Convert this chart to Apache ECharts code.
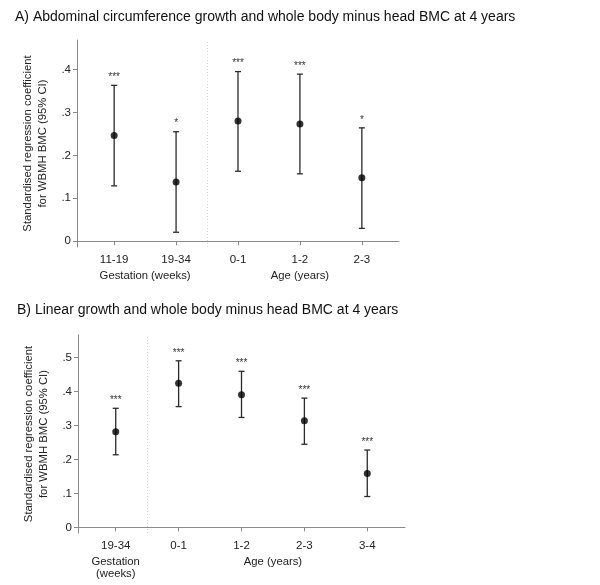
<!DOCTYPE html>
<html><head><meta charset="utf-8">
<script src="https://cdn.jsdelivr.net/npm/echarts@6/dist/echarts.min.js"></script>
<style>html,body{margin:0;padding:0;background:#fff}#c{width:600px;height:585px}</style>
</head><body><div id="c"></div>
<script>
// Panel A data
const titleA = 'A) Abdominal circumference growth and whole body minus head BMC at 4 years';
const catsA = ['11-19', '19-34', '0-1', '1-2', '2-3'];
const estA = [0.246, 0.138, 0.280, 0.273, 0.148];
const loA = [0.129, 0.021, 0.163, 0.157, 0.030];
const hiA = [0.363, 0.255, 0.395, 0.389, 0.264];
const sigA = ['***', '*', '***', '***', '*'];
const groupNamesA = ['Gestation (weeks)', 'Age (years)'];
const groupSpansA = [[0, 1], [2, 4]];
const yTicksA = [0, 0.1, 0.2, 0.3, 0.4];

// Panel B data
const titleB = 'B) Linear growth and whole body minus head BMC at 4 years';
const catsB = ['19-34', '0-1', '1-2', '2-3', '3-4'];
const estB = [0.282, 0.425, 0.391, 0.314, 0.159];
const loB = [0.214, 0.356, 0.324, 0.245, 0.091];
const hiB = [0.351, 0.491, 0.460, 0.381, 0.228];
const sigB = ['***', '***', '***', '***', '***'];
const groupNamesB = ['Gestation\n(weeks)', 'Age (years)'];
const groupSpansB = [[0, 0], [1, 4]];
const yTicksB = [0, 0.1, 0.2, 0.3, 0.4, 0.5];

const yTitle = 'Standardised regression coefficient\nfor WBMH BMC (95% CI)';
const FONT = '"Liberation Sans", Arial, sans-serif';
const AX = '#8a8a8a';
const TXT = '#222';

const chart = echarts.init(document.getElementById('c'), null, {renderer: 'canvas'});

function fmtTick(v) {
  if (Math.abs(v) < 1e-9) return '0';
  return v.toFixed(1).replace(/^0/, '');
}

function panelAxes(idx, cats, yTicks, ymin, ymax) {
  const pos = cats.map((c, i) => i + 1);
  const x = {
    type: 'value', gridIndex: idx, min: 0.4, max: 5.6,
    axisLine: {show: true, lineStyle: {color: AX, width: 1}},
    axisTick: {show: true, length: 4, inside: false, customValues: pos, lineStyle: {color: AX}},
    axisLabel: {show: true, customValues: pos, margin: 7, fontFamily: FONT, fontSize: 11.5, color: TXT,
      formatter: v => cats[Math.round(v) - 1] || ''},
    splitLine: {show: false}
  };
  const y = {
    type: 'value', gridIndex: idx, min: ymin, max: ymax,
    name: yTitle, nameLocation: 'middle', nameGap: 25,
    nameTextStyle: {fontFamily: FONT, fontSize: 11.3, color: TXT, lineHeight: 15},
    axisLine: {show: true, lineStyle: {color: AX, width: 1}},
    axisTick: {show: true, length: 4, customValues: yTicks, lineStyle: {color: AX}},
    axisLabel: {show: true, customValues: yTicks, margin: 6, fontFamily: FONT, fontSize: 11.5, color: TXT,
      formatter: fmtTick},
    splitLine: {show: false}
  };
  return {x, y};
}

function errSeries(idx, est, lo, hi, sig, sepX) {
  const data = est.map((e, i) => [i + 1, lo[i], hi[i], sig[i]]);
  return [
    {
      type: 'custom', xAxisIndex: idx, yAxisIndex: idx, clip: false,
      data: data,
      renderItem: function (params, api) {
        const xv = api.value(0);
        const pLo = api.coord([xv, api.value(1)]);
        const pHi = api.coord([xv, api.value(2)]);
        const cap = 3;
        const st = {stroke: '#2b2b2b', lineWidth: 1.3};
        return {
          type: 'group',
          children: [
            {type: 'line', shape: {x1: pLo[0], y1: pLo[1], x2: pHi[0], y2: pHi[1]}, style: st},
            {type: 'line', shape: {x1: pHi[0] - cap, y1: pHi[1], x2: pHi[0] + cap, y2: pHi[1]}, style: st},
            {type: 'line', shape: {x1: pLo[0] - cap, y1: pLo[1], x2: pLo[0] + cap, y2: pLo[1]}, style: st},
            {type: 'text', style: {text: api.value(3), x: pHi[0], y: pHi[1] - 3, align: 'center', verticalAlign: 'bottom',
              font: '10px ' + FONT, fill: '#333'}}
          ]
        };
      },
      encode: {x: 0, y: [1, 2]},
      z: 3
    },
    {
      type: 'scatter', xAxisIndex: idx, yAxisIndex: idx,
      data: est.map((e, i) => [i + 1, e]),
      symbol: 'circle', symbolSize: 7,
      itemStyle: {color: '#000'},
      z: 4,
      markLine: {
        silent: true, symbol: ['none', 'none'], label: {show: false},
        lineStyle: {color: '#d4d4d4', type: [1, 2], width: 1},
        data: [{xAxis: sepX}]
      }
    }
  ];
}

const axA = panelAxes(0, catsA, yTicksA, -0.0133, 0.4685);
const axB = panelAxes(1, catsB, yTicksB, -0.0165, 0.567);

const option = {
  backgroundColor: '#fff',
  animation: false,
  title: [
    {text: titleA, left: 10, top: 5, textStyle: {fontFamily: FONT, fontSize: 14, fontWeight: 'normal', color: '#111'}},
    {text: titleB, left: 12, top: 298, textStyle: {fontFamily: FONT, fontSize: 14, fontWeight: 'normal', color: '#111'}}
  ],
  grid: [
    {left: 77, top: 40, width: 322, height: 207, containLabel: false},
    {left: 78, top: 335, width: 327, height: 198, containLabel: false}
  ],
  xAxis: [axA.x, axB.x],
  yAxis: [axA.y, axB.y],
  series: [].concat(
    errSeries(0, estA, loA, hiA, sigA, 2.5),
    errSeries(1, estB, loB, hiB, sigB, 1.5)
  )
};
chart.setOption(option);

// group labels under category ticks
function groupGraphics(idx, names, spans, ymin, dy) {
  return names.map((n, g) => {
    const mid = (spans[g][0] + spans[g][1]) / 2 + 1;
    const p = chart.convertToPixel({gridIndex: idx}, [mid, ymin]);
    return {type: 'text', x: p[0], y: p[1] + dy,
      style: {text: n, align: 'center', verticalAlign: 'top', font: '11.3px ' + FONT, fill: TXT, lineHeight: 12}};
  });
}
chart.setOption({
  graphic: [].concat(
    groupGraphics(0, groupNamesA, groupSpansA, -0.0133, 23),
    groupGraphics(1, groupNamesB, groupSpansB, -0.0165, 23)
  )
});
</script></body></html>
